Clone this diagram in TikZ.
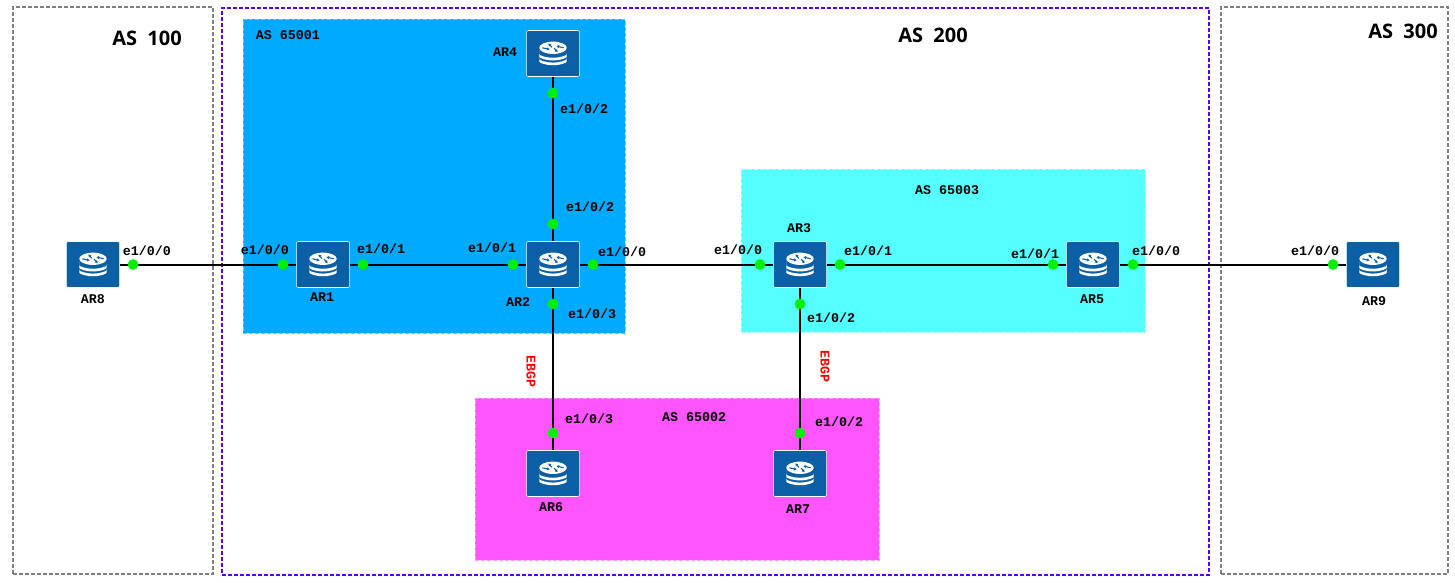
\documentclass[tikz,border=0pt]{standalone}
\usepackage{fontspec}
\setmainfont{Open Sans}
\setmonofont{Liberation Mono}
\usetikzlibrary{positioning, arrows.meta}
\definecolor{BlueA}{HTML}{5500FF}
\definecolor{BlueB}{HTML}{00AAFF}
\definecolor{BlueC}{HTML}{55CCFF}
\definecolor{CyanB}{HTML}{55FFFF}
\definecolor{CyanC}{HTML}{AAFFFF}
\definecolor{PinkB}{HTML}{FF55FF}
\definecolor{PinkC}{HTML}{FF99FF}
\definecolor{GrayA}{HTML}{808080}
\definecolor{IconA}{HTML}{0B5FA5}
\definecolor{DotA}{HTML}{00F000}
\newcommand{\routericon}{%
  \begin{scope}[shift={(path picture bounding box.center)}]
    \fill[white] (-10.3pt,1pt) -- ++(0pt,-2pt) arc[start angle=180, end angle=360, x radius=10.3pt, y radius=4.2pt] -- ++(0pt,2pt) arc[start angle=360, end angle=180, x radius=10.3pt, y radius=4.2pt] -- cycle;
    \fill[white] (-10.3pt,-2.6pt) -- ++(0pt,-2pt) arc[start angle=180, end angle=360, x radius=10.3pt, y radius=4.2pt] -- ++(0pt,2pt) arc[start angle=360, end angle=180, x radius=10.3pt, y radius=4.2pt] -- cycle;
    \fill[white] (0pt,4.3pt) ellipse[x radius=10.3pt, y radius=4.6pt];
    \draw[icontip] (-8pt,4.3pt) -- (-2.5pt,3pt);
    \draw[icontip] (8pt,4.3pt) -- (2.5pt,5.6pt);
    \draw[icontip] (-0.8pt,4.6pt) -- (-3.5pt,7.6pt);
    \draw[icontip] (0.8pt,4pt) -- (3.5pt,1pt);
  \end{scope}}
\tikzset{
  asbox/.style={draw=GrayA, dash pattern=on 3pt off 1.5pt, line width=1.5pt, anchor=north west, inner sep=0pt, outer sep=0pt},
  asmain/.style={asbox, draw=BlueA},
  subas/.style={dash pattern=on 3pt off 1.5pt, line width=0.75pt, anchor=north west, inner sep=0pt, outer sep=0pt},
  icontip/.style={IconA, line width=0.8pt, -{Latex[length=2pt,width=2.6pt]}},
  router/.style={draw=white, line width=0.4pt, fill=IconA, rounded corners=1.5pt, minimum width=40pt, minimum height=34.5pt, inner sep=0pt,
    path picture={\routericon}},
  link/.style={draw=black, line width=1.5pt},
  dot/.style={circle, fill=DotA, minimum size=8pt, inner sep=0pt},
  port/.style={font=\ttfamily\bfseries\fontsize{10}{10}\selectfont, inner sep=0pt},
  asname/.style={font=\bfseries\fontsize{15}{15}\selectfont, inner sep=0pt},
  subname/.style={port},
  ebgp/.style={port, text=red, rotate=-90}
}
\begin{document}
\begin{tikzpicture}[x=0.75pt, y=-0.75pt]
  \useasboundingbox (0,0) rectangle (1455,582);

  \node[asbox, minimum width=150pt, minimum height=425.25pt] (as100) at (13,7) {};
  \node[asmain, minimum width=740.25pt, minimum height=425.25pt] (as200) at (222,8) {};
  \node[asbox, minimum width=170.25pt, minimum height=425.25pt] (as300) at (1221,7) {};
  \node[subas, fill=BlueB, draw=BlueC, minimum width=286.5pt, minimum height=235.5pt] (as65001) at (243,19) {};
  \node[subas, fill=CyanB, draw=CyanC, minimum width=303pt, minimum height=122.25pt] (as65003) at (741,169) {};
  \node[subas, fill=PinkB, draw=PinkC, minimum width=303pt, minimum height=121.5pt] (as65002) at (475,398) {};

  \node[router] (ar8) at (93,264.5) {};
  \node[router] (ar1) at (323,264.5) {};
  \node[router] (ar2) at (553,264.5) {};
  \node[router] (ar3) at (800,264.5) {};
  \node[router] (ar5) at (1093,264.5) {};
  \node[router] (ar9) at (1373,264.5) {};
  \node[router] (ar4) at (553,53.5) {};
  \node[router] (ar6) at (553,473.5) {};
  \node[router] (ar7) at (800,473.5) {};

  \draw[link] (ar8) -- (ar1);
  \draw[link] (ar1) -- (ar2);
  \draw[link] (ar2) -- (ar3);
  \draw[link] (ar3) -- (ar5);
  \draw[link] (ar5) -- (ar9);
  \draw[link] (ar4) -- (ar2);
  \draw[link] (ar2) -- (ar6);
  \draw[link] (ar3) -- (ar7);

  \node[dot] (dot8r) at (133,264.5) {};
  \node[dot] (dot1l) at (283,264.5) {};
  \node[dot] (dot1r) at (363,264.5) {};
  \node[dot] (dot2l) at (513,264.5) {};
  \node[dot] (dot2r) at (593,264.5) {};
  \node[dot] (dot2t) at (553,224) {};
  \node[dot] (dot2b) at (553,304) {};
  \node[dot] (dot4b) at (553,93) {};
  \node[dot] (dot6t) at (553,433) {};
  \node[dot] (dot3l) at (760,264.5) {};
  \node[dot] (dot3r) at (840,264.5) {};
  \node[dot] (dot3b) at (800,304) {};
  \node[dot] (dot7t) at (800,433) {};
  \node[dot] (dot5l) at (1053,264.5) {};
  \node[dot] (dot5r) at (1133,264.5) {};
  \node[dot] (dot9l) at (1333,264.5) {};

  \node[asname] (as100t) at (147,38) {AS\ \ 100};
  \node[asname] (as200t) at (933,35) {AS\ \ 200};
  \node[asname] (as300t) at (1403,31) {AS\ \ 300};
  \node[subname] (as65001t) at (288,35) {AS 65001};
  \node[subname] (as65003t) at (947,190) {AS 65003};
  \node[subname] (as65002t) at (694,417) {AS 65002};

  \node[port] (ar8t) at (93,299) {AR8};
  \node[port] (ar1t) at (322,297) {AR1};
  \node[port] (ar2t) at (518,302) {AR2};
  \node[port] (ar3t) at (799,228) {AR3};
  \node[port] (ar4t) at (505,52) {AR4};
  \node[port] (ar5t) at (1092,299) {AR5};
  \node[port] (ar6t) at (551,507) {AR6};
  \node[port] (ar7t) at (798,509) {AR7};
  \node[port] (ar9t) at (1374,301) {AR9};

  \node[port] (p8r) at (147,251) {e1/0/0};
  \node[port] (p1l) at (265,250) {e1/0/0};
  \node[port] (p1r) at (381,249) {e1/0/1};
  \node[port] (p2l) at (492,248) {e1/0/1};
  \node[port] (p2r) at (622,252) {e1/0/0};
  \node[port] (p2t) at (590,207) {e1/0/2};
  \node[port] (p2b) at (592,314) {e1/0/3};
  \node[port] (p4b) at (584,109) {e1/0/2};
  \node[port] (p6t) at (589,419) {e1/0/3};
  \node[port] (p3l) at (738,250) {e1/0/0};
  \node[port] (p3r) at (868,251) {e1/0/1};
  \node[port] (p3b) at (831,318) {e1/0/2};
  \node[port] (p7t) at (839,422) {e1/0/2};
  \node[port] (p5l) at (1035,254) {e1/0/1};
  \node[port] (p5r) at (1156,251) {e1/0/0};
  \node[port] (p9l) at (1315,251) {e1/0/0};

  \node[ebgp] (ebgp1) at (531,371) {EBGP};
  \node[ebgp] (ebgp2) at (825,366) {EBGP};
\end{tikzpicture}
\end{document}
